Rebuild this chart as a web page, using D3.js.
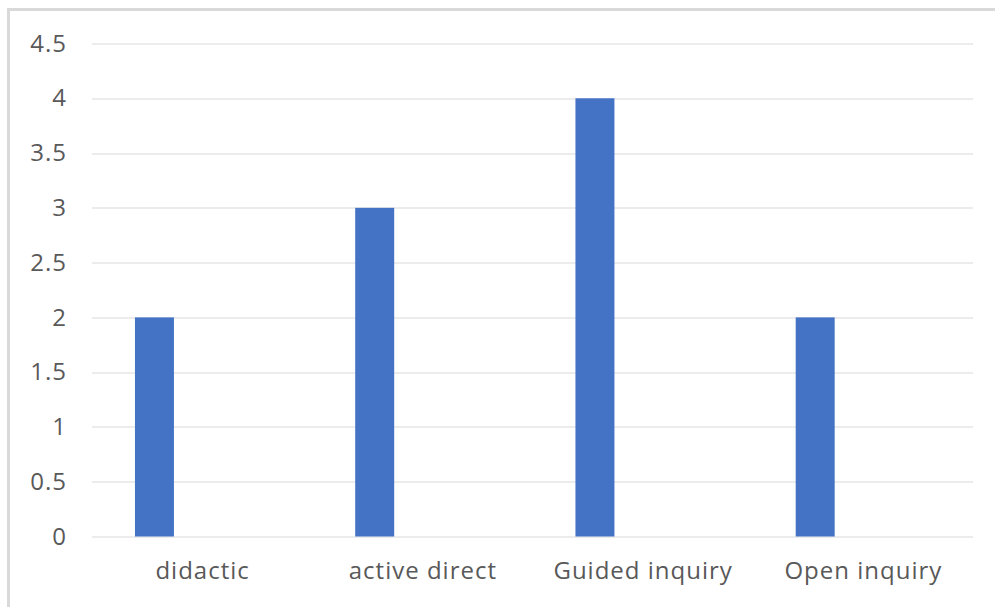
<!DOCTYPE html>
<html>
<head>
<meta charset="utf-8">
<script src="https://cdn.jsdelivr.net/npm/d3@7"></script>
<style>
  body { margin: 0; background: #fff; }
  svg { display: block; }
  .axis text { font-family: "Open Sans", sans-serif; fill: #595959; letter-spacing: 1px; }
</style>
</head>
<body>
<svg width="995" height="607"></svg>
<script>
// chart data
var categories = ["didactic", "active direct", "Guided inquiry", "Open inquiry"];
var values = [2, 3, 4, 2];
var yTicks = [0, 0.5, 1, 1.5, 2, 2.5, 3, 3.5, 4, 4.5];

var svg = d3.select("svg"),
	margin = {top: 43.5, right: 22, bottom: 70.5, left: 92},
	width = svg.attr("width") - margin.left - margin.right,
	height = svg.attr("height") - margin.top - margin.bottom,
	g = svg.append("g").attr("transform", "translate(" + margin.left + "," + margin.top + ")");

// chart area border (runs off the right and bottom of the picture)
svg.append("rect")
	.attr("x", 8.5)
	.attr("y", 9.5)
	.attr("width", 1000)
	.attr("height", 700)
	.attr("fill", "none")
	.attr("stroke", "#d9d9d9")
	.attr("stroke-width", 3);

var x = d3.scaleBand()
	.domain(categories)
	.range([0, width])
	.padding(0);

var y = d3.scaleLinear()
	.domain([0, 4.5])
	.range([height, 0]);

// gridlines
g.append("g")
	.selectAll("line")
	.data(yTicks)
	.enter().append("line")
		.attr("x1", 0)
		.attr("x2", width)
		.attr("y1", function(d) { return Math.round(y(d)) + 0.5; })
		.attr("y2", function(d) { return Math.round(y(d)) + 0.5; })
		.attr("stroke", "#d9d9d9")
		.attr("stroke-width", 1);

// bars sit left of centre (clustered slot)
var barOffset = 0.195, barWidth = 0.177;
g.append("g")
	.selectAll("rect")
	.data(values)
	.enter().append("rect")
		.attr("x", function(d, i) { return x(categories[i]) + x.bandwidth() * barOffset; })
		.attr("y", function(d) { return y(d); })
		.attr("width", x.bandwidth() * barWidth)
		.attr("height", function(d) { return height - y(d); })
		.attr("fill", "#4472c4");

// y axis labels
var yAxis = g.append("g")
	.attr("class", "axis")
	.call(d3.axisLeft(y).tickValues(yTicks).tickSize(0).tickPadding(25).tickFormat(d3.format("")));
yAxis.select(".domain").remove();
yAxis.selectAll("text").attr("font-size", 24);

// x axis labels
var xAxis = g.append("g")
	.attr("class", "axis")
	.attr("transform", "translate(0," + height + ")")
	.call(d3.axisBottom(x).tickSize(0).tickPadding(25));
xAxis.select(".domain").remove();
xAxis.selectAll("text").attr("font-size", 24).attr("dx", "0.5px");
</script>
</body>
</html>
